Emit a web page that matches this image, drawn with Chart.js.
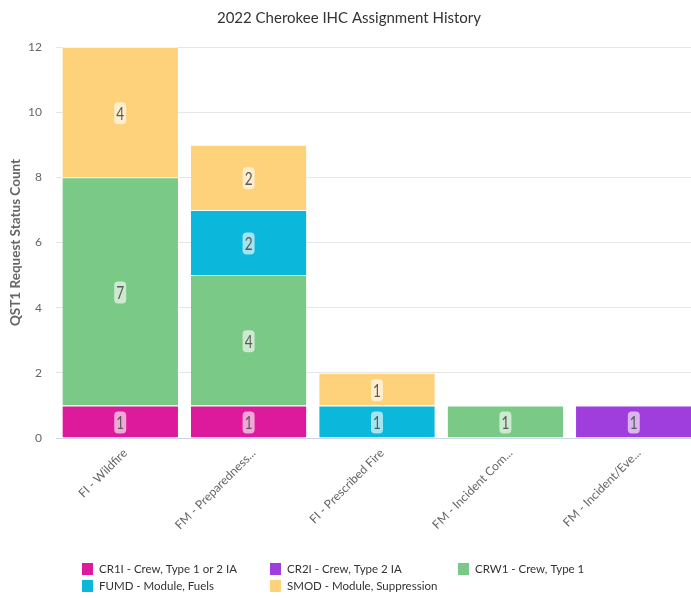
<!DOCTYPE html>
<html><head><meta charset="utf-8">
<script src="https://cdn.jsdelivr.net/npm/chart.js@4.4.0/dist/chart.umd.min.js"></script>
<style>
html,body{margin:0;padding:0;overflow:hidden;background:#fff;width:691px;height:598px}
#wrap{position:absolute;left:0;top:0;width:700px;height:598px}
</style>
</head><body>
<div id="wrap"><canvas id="c" width="700" height="598"></canvas></div>
<script>
const categories = ['FI - Wildfire','FM - Preparedness...','FI - Prescribed Fire','FM - Incident Com...','FM - Incident/Eve...'];
const seriesNames = ['CR1I - Crew, Type 1 or 2 IA','CR2I - Crew, Type 2 IA','CRW1 - Crew, Type 1','FUMD - Module, Fuels','SMOD - Module, Suppression'];
const cr1i = [1,1,0,0,0];
const cr2i = [0,0,0,0,1];
const crw1 = [7,4,0,1,0];
const fumd = [0,2,1,0,0];
const smod = [4,2,1,0,0];
const yTicks = [0,2,4,6,8,10,12];
const colors = ['#dd1a9b','#9f3ddd','#7bc987','#0bb8db','#fed17b'];

const seriesValues = [cr1i, cr2i, crw1, fumd, smod];
const FONT = 'Lato';

const datasets = seriesValues.map((vals, i) => ({
  label: seriesNames[i],
  data: vals.map(v => v === 0 ? null : v),
  backgroundColor: colors[i],
  borderColor: 'rgba(255,255,255,0.55)',
  borderWidth: {top: 1, left: 0, right: 0, bottom: 0},
  borderSkipped: false,
  barPercentage: 0.9,
  categoryPercentage: 1.0
}));

function rr(ctx, x, y, w, h, r) {
  ctx.beginPath();
  ctx.moveTo(x + r, y);
  ctx.lineTo(x + w - r, y);
  ctx.quadraticCurveTo(x + w, y, x + w, y + r);
  ctx.lineTo(x + w, y + h - r);
  ctx.quadraticCurveTo(x + w, y + h, x + w - r, y + h);
  ctx.lineTo(x + r, y + h);
  ctx.quadraticCurveTo(x, y + h, x, y + h - r);
  ctx.lineTo(x, y + r);
  ctx.quadraticCurveTo(x, y, x + r, y);
  ctx.closePath();
}

const dataLabels = {
  id: 'dataLabels',
  afterDatasetsDraw(chart) {
    const ctx = chart.ctx;
    chart.data.datasets.forEach((ds, i) => {
      const meta = chart.getDatasetMeta(i);
      meta.data.forEach((el, j) => {
        const v = ds.data[j];
        if (!v) return;
        const p = el.getProps(['x', 'y', 'base'], true);
        const cy = (p.y + p.base) / 2 + 1;
        ctx.save();
        ctx.fillStyle = 'rgba(255,255,255,0.62)';
        rr(ctx, p.x - 6, cy - 11, 12, 22, 4);
        ctx.fill();
        ctx.translate(p.x, cy);
        ctx.scale(0.8, 1);
        ctx.font = '17px ' + FONT;
        ctx.fillStyle = '#5a5a5a';
        ctx.textAlign = 'center';
        ctx.textBaseline = 'middle';
        ctx.fillText(String(v), 0, 1);
        ctx.restore();
      });
    });
  }
};

const legendCols = [82, 270, 458];
const legendRows = [569, 586];
const customLegend = {
  id: 'customLegend',
  afterDraw(chart) {
    const ctx = chart.ctx;
    ctx.save();
    ctx.font = '11.5px ' + FONT;
    ctx.textBaseline = 'middle';
    ctx.textAlign = 'left';
    chart.data.datasets.forEach((ds, i) => {
      const x = legendCols[i % 3];
      const y = legendRows[Math.floor(i / 3)];
      ctx.fillStyle = ds.backgroundColor;
      ctx.fillRect(x, y - 6, 11, 12);
      ctx.fillStyle = '#333';
      ctx.fillText(ds.label, x + 17, y);
    });
    ctx.restore();
  }
};

new Chart(document.getElementById('c'), {
  type: 'bar',
  data: { labels: categories, datasets },
  options: {
    responsive: false,
    animation: false,
    layout: { padding: { top: 0, left: 0, right: 2, bottom: 50 } },
    plugins: {
      legend: { display: false },
      tooltip: { enabled: false },
      title: {
        display: true,
        text: '2022 Cherokee IHC Assignment History',
        color: '#333',
        font: { family: FONT, size: 15, weight: 'normal' },
        padding: { top: 9, bottom: 20 }
      }
    },
    scales: {
      x: {
        stacked: true,
        afterFit(s) { s.height = 110; },
        grid: { display: false, drawTicks: false },
        border: { display: true, color: '#ccd6eb', width: 1 },
        ticks: {
          autoSkip: false,
          minRotation: 45,
          maxRotation: 45,
          padding: 8,
          labelOffset: 5,
          color: '#666',
          font: { family: FONT, size: 12 }
        }
      },
      y: {
        stacked: true,
        min: 0,
        max: 12,
        afterFit(s) { s.width = 56; },
        afterBuildTicks(s) { s.ticks = yTicks.map(v => ({ value: v })); },
        grid: { color: '#e6e6e6', drawTicks: false },
        border: { display: false },
        ticks: {
          padding: 14,
          color: '#666',
          font: { family: FONT, size: 12 }
        },
        title: {
          display: true,
          text: 'QST1 Request Status Count',
          color: '#666',
          font: { family: FONT, size: 13.5, weight: 'bold' },
          padding: { top: 8, bottom: 0 }
        }
      }
    }
  },
  plugins: [dataLabels, customLegend]
});
</script>
</body></html>
